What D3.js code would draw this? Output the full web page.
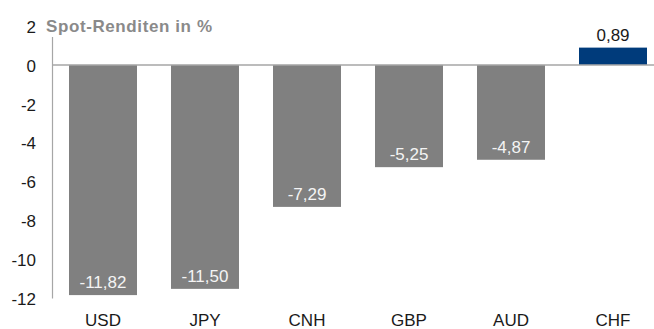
<!DOCTYPE html>
<html>
<head>
<meta charset="utf-8">
<script src="https://cdn.jsdelivr.net/npm/d3@7"></script>
<style>
  html, body { margin: 0; padding: 0; background: #fff; }
  svg { display: block; font-family: "Liberation Sans", Arial, Helvetica, sans-serif; }
</style>
</head>
<body>
<svg id="chart" width="654" height="329"></svg>
<script>
// Spot returns per currency, in percent
const currencies = ["USD", "JPY", "CNH", "GBP", "AUD", "CHF"];
const spotReturns = [-11.82, -11.50, -7.29, -5.25, -4.87, 0.89];
const highlight = ["CHF"];
const yTicks = [2, 0, -2, -4, -6, -8, -10, -12];
const title = "Spot-Renditen in %";

const svg = d3.select("#chart");
const width = 654, height = 329;

const x = d3.scaleBand()
  .domain(currencies)
  .range([52, 664])
  .paddingInner(1 / 3)
  .paddingOuter(1 / 6);

const y = d3.scaleLinear()
  .domain([-12, 2])
  .range([298.6, 26]);

// German decimal comma with a plain hyphen for negatives
const fmt = v => v.toFixed(2).replace(".", ",");

// Vertical axis line
svg.append("line")
  .attr("x1", 52.5).attr("x2", 52.5)
  .attr("y1", 37).attr("y2", y(-12))
  .attr("stroke", "#a6a6a6").attr("stroke-width", 1.2);

// Y tick labels
const yAxis = d3.axisLeft(y).tickValues(yTicks).tickSize(0).tickPadding(0)
  .tickFormat(d => String(d));
const yg = svg.append("g").attr("transform", "translate(36,0)").call(yAxis);
yg.select(".domain").remove();
yg.selectAll("text")
  .attr("font-size", 17)
  .attr("fill", "#1a1a1a")
  .attr("font-family", "Liberation Sans, Arial, sans-serif")
  .attr("dy", "0.36em");

// Bars
const data = currencies.map((c, i) => ({ c, v: spotReturns[i] }));
svg.append("g").selectAll("rect").data(data).enter().append("rect")
  .attr("x", d => x(d.c))
  .attr("width", x.bandwidth())
  .attr("y", d => y(Math.max(0, d.v)))
  .attr("height", d => Math.abs(y(d.v) - y(0)))
  .attr("fill", d => highlight.includes(d.c) ? "#003b7b" : "#808080");

// Zero line
svg.append("line")
  .attr("x1", 52).attr("x2", width)
  .attr("y1", y(0)).attr("y2", y(0))
  .attr("stroke", "#a6a6a6").attr("stroke-width", 1.5);

// Value labels: inside the bar end for negatives, above the bar for positives
svg.append("g").selectAll("text").data(data).enter().append("text")
  .attr("x", d => x(d.c) + x.bandwidth() / 2)
  .attr("y", d => y(d.v) - 7)
  .attr("text-anchor", "middle")
  .attr("font-size", 17)
  .attr("fill", d => d.v < 0 ? "#f4f4f4" : "#1a1a1a")
  .text(d => fmt(d.v));

// Category labels
const xAxis = d3.axisBottom(x).tickSize(0).tickPadding(0);
const xg = svg.append("g").attr("transform", "translate(0,314)").call(xAxis);
xg.select(".domain").remove();
xg.selectAll("text")
  .attr("font-size", 17)
  .attr("fill", "#1a1a1a")
  .attr("font-family", "Liberation Sans, Arial, sans-serif")
  .attr("dy", "0.72em");

// Title
svg.append("text")
  .attr("x", 46).attr("y", 32)
  .attr("font-size", 17)
  .attr("font-weight", "bold")
  .attr("letter-spacing", 0.6)
  .attr("fill", "#8a8a8a")
  .text(title);
</script>
</body>
</html>
